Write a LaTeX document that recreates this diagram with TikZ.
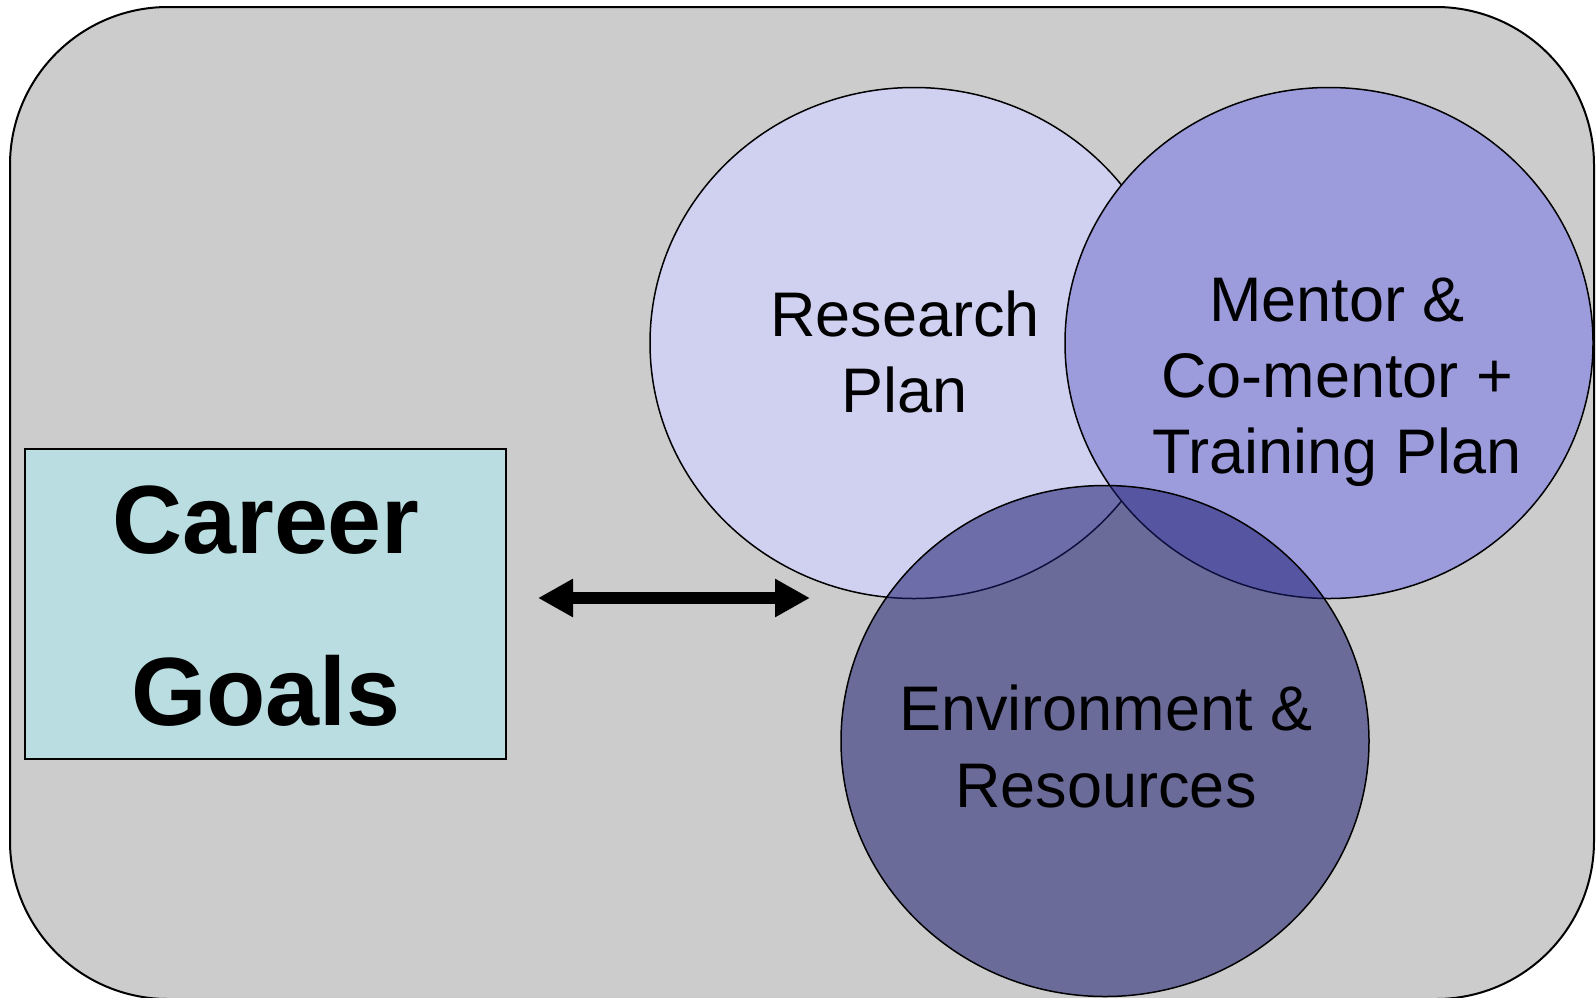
\documentclass[tikz,border=0pt]{standalone}
\usepackage{fontspec}
\setmainfont{Liberation Sans}
\usetikzlibrary{arrows.meta,shapes.geometric}
\definecolor{bggray}{HTML}{CCCCCC}
\definecolor{rpfill}{HTML}{D0D0F0}
\definecolor{mtfill}{HTML}{9C9CDD}
\definecolor{envfill}{HTML}{1C1C72}
\definecolor{cgfill}{HTML}{B9DDE0}
\begin{document}
\begin{tikzpicture}[x=0.5pt,y=-0.5pt,
  venn/.style={ellipse,draw=black,line width=0.75pt,inner sep=0pt,minimum width=264pt,minimum height=255.5pt},
  lbl/.style={anchor=base,inner sep=0pt,font=\fontsize{31.5}{38}\selectfont},
  big/.style={anchor=base,inner sep=0pt,font=\fontsize{48.5}{58}\selectfont\bfseries},
  dblarrow/.style={line width=6pt,{Triangle[length=17.5pt,width=18pt]}-{Triangle[length=17.5pt,width=18pt]}}]
\useasboundingbox (0,0) rectangle (1596,997);
\begin{scope}
\clip (0,0) rectangle (1596,997);
\draw[fill=bggray,line width=1pt,rounded corners=79pt] (10,7) rectangle (1594,999);
\node[venn,fill=rpfill] (rp) at (914,343) {};
\node[venn,fill=mtfill] (mt) at (1329,343) {};
\node[venn,fill=envfill,fill opacity=0.55] (env) at (1105,741) {};
\end{scope}
\node[draw=black,line width=1pt,fill=cgfill,minimum width=240.5pt,minimum height=155pt,inner sep=0pt] (cg) at (265.5,604) {};
\node[lbl] (rp1) at (905,336) {Research};
\node[lbl] (rp2) at (905,412) {Plan};
\node[lbl] (mt1) at (1337,321) {Mentor \&};
\node[lbl] (mt2) at (1337,397) {Co-mentor +};
\node[lbl] (mt3) at (1337,473) {Training Plan};
\node[lbl] (en1) at (1106,730) {Environment \&};
\node[lbl] (en2) at (1106,807) {Resources};
\node[big] (cg1) at (266,553) {Career};
\node[big] (cg2) at (266,725) {Goals};
\coordinate (al) at (538,598);
\coordinate (ar) at (810,598);
\draw[dblarrow] (al) -- (ar);
\end{tikzpicture}
\end{document}
